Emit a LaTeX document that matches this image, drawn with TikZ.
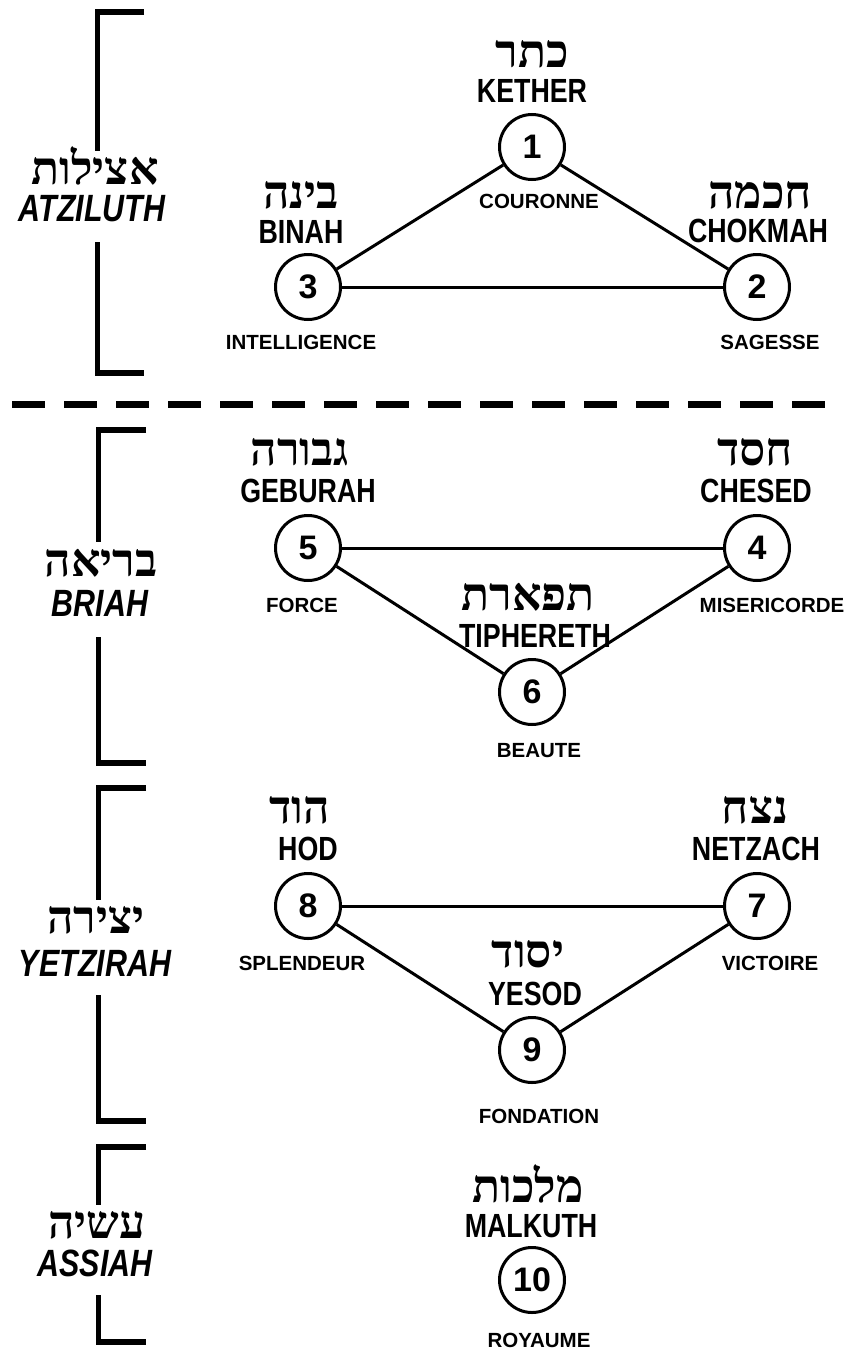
\documentclass[tikz,border=0pt]{standalone}
\usepackage{fontspec}
\setmainfont{Liberation Sans}
\newfontfamily\condfont[FakeStretch=0.8]{Liberation Sans}
\newfontfamily\hebfont[Script=Hebrew]{Liberation Serif}
\TeXXeTstate=1
\tikzset{
  sef/.style={circle, draw, line width=3pt, minimum size=65pt, inner sep=0pt,
    font=\fontsize{34}{34}\selectfont\bfseries},
  heb/.style={anchor=base, inner sep=0pt, text depth=0pt, font=\hebfont\fontsize{46}{46}\selectfont\bfseries},
  nm/.style={anchor=base, inner sep=0pt, font=\condfont\fontsize{33.5}{33.5}\selectfont\bfseries},
  sub/.style={anchor=base, inner sep=0pt, font=\fontsize{20.5}{20.5}\selectfont\bfseries},
  world/.style={anchor=base, inner sep=0pt, font=\condfont\fontsize{38}{38}\selectfont\bfseries\itshape},
  conn/.style={line width=3pt},
  brk/.style={line width=5.5pt, line join=miter},
}
\newcommand{\hb}[1]{\beginR #1\endR}
\begin{document}
\begin{tikzpicture}[x=1pt, y=-1pt]
\useasboundingbox (0,0) rectangle (844,1349);
% ---------- brackets ----------
\draw[brk] (144,12) -- (97.5,12) -- (97.5,151);
\draw[brk] (97.5,242) -- (97.5,373) -- (144,373);
\draw[brk] (146,430) -- (98.5,430) -- (98.5,542);
\draw[brk] (98.5,637) -- (98.5,763) -- (146,763);
\draw[brk] (146,788) -- (98.5,788) -- (98.5,900);
\draw[brk] (98.5,995) -- (98.5,1121) -- (146,1121);
\draw[brk] (146,1147) -- (98.5,1147) -- (98.5,1205);
\draw[brk] (98.5,1295) -- (98.5,1342) -- (146,1342);
% ---------- dashed separator ----------
\draw[line width=7pt, dash pattern=on 33pt off 19pt] (12,404.5) -- (844,404.5);
% ---------- world labels ----------
\node[heb] (hatz) at (95,184) {\hb{אצילות}};
\node[world] (atz) at (92,221) {ATZILUTH};
\node[heb] (hbri) at (101,576) {\hb{בריאה}};
\node[world] (bri) at (100,616) {BRIAH};
\node[heb] (hyet) at (96,933) {\hb{יצירה}};
\node[world] (yet) at (95,976) {YETZIRAH};
\node[heb] (hass) at (97,1238) {\hb{עשיה}};
\node[world] (ass) at (95,1276) {ASSIAH};
% ---------- sephiroth ----------
\node[sef] (k1) at (532,147) {1};
\node[sef] (k2) at (757,287) {2};
\node[sef] (k3) at (308,287) {3};
\node[sef] (k4) at (757,548) {4};
\node[sef] (k5) at (308,548) {5};
\node[sef] (k6) at (532,692) {6};
\node[sef] (k7) at (757,906) {7};
\node[sef] (k8) at (308,906) {8};
\node[sef] (k9) at (532,1050) {9};
\node[sef] (k10) at (532,1280) {10};
% ---------- connectors ----------
\draw[conn] (k1) -- (k3);
\draw[conn] (k1) -- (k2);
\draw[conn] (k3) -- (k2);
\draw[conn] (k5) -- (k4);
\draw[conn] (k5) -- (k6);
\draw[conn] (k6) -- (k4);
\draw[conn] (k8) -- (k7);
\draw[conn] (k8) -- (k9);
\draw[conn] (k9) -- (k7);
% ---------- labels ----------
\node[heb] (h1) at (532,67) {\hb{כתר}};
\node[nm] (n1) at (532,102) {KETHER};
\node[sub] (s1) at (539,208) {COURONNE};
\node[heb] (h2) at (760,208) {\hb{חכמה}};
\node[nm] (n2) at (758,242) {CHOKMAH};
\node[sub] (s2) at (770,349) {SAGESSE};
\node[heb] (h3) at (301,208) {\hb{בינה}};
\node[nm] (n3) at (301,243) {BINAH};
\node[sub] (s3) at (301,349) {INTELLIGENCE};
\node[heb] (h4) at (755,465) {\hb{חסד}};
\node[nm] (n4) at (756,502) {CHESED};
\node[sub] (s4) at (772,612) {MISERICORDE};
\node[heb] (h5) at (300,465) {\hb{גבורה}};
\node[nm] (n5) at (308,502) {GEBURAH};
\node[sub] (s5) at (302,612) {FORCE};
\node[heb] (h6) at (528,610) {\hb{תפארת}};
\node[nm] (n6) at (535,647) {TIPHERETH};
\node[sub] (s6) at (539,757) {BEAUTE};
\node[heb] (h7) at (755,823) {\hb{נצח}};
\node[nm] (n7) at (756,860) {NETZACH};
\node[sub] (s7) at (770,970) {VICTOIRE};
\node[heb] (h8) at (300,823) {\hb{הוד}};
\node[nm] (n8) at (308,860) {HOD};
\node[sub] (s8) at (302,970) {SPLENDEUR};
\node[heb] (h9) at (528,967) {\hb{יסוד}};
\node[nm] (n9) at (535,1005) {YESOD};
\node[sub] (s9) at (539,1123) {FONDATION};
\node[heb] (h10) at (528,1202) {\hb{מלכות}};
\node[nm] (n10) at (531,1237) {MALKUTH};
\node[sub] (s10) at (539,1347) {ROYAUME};
\end{tikzpicture}
\end{document}
